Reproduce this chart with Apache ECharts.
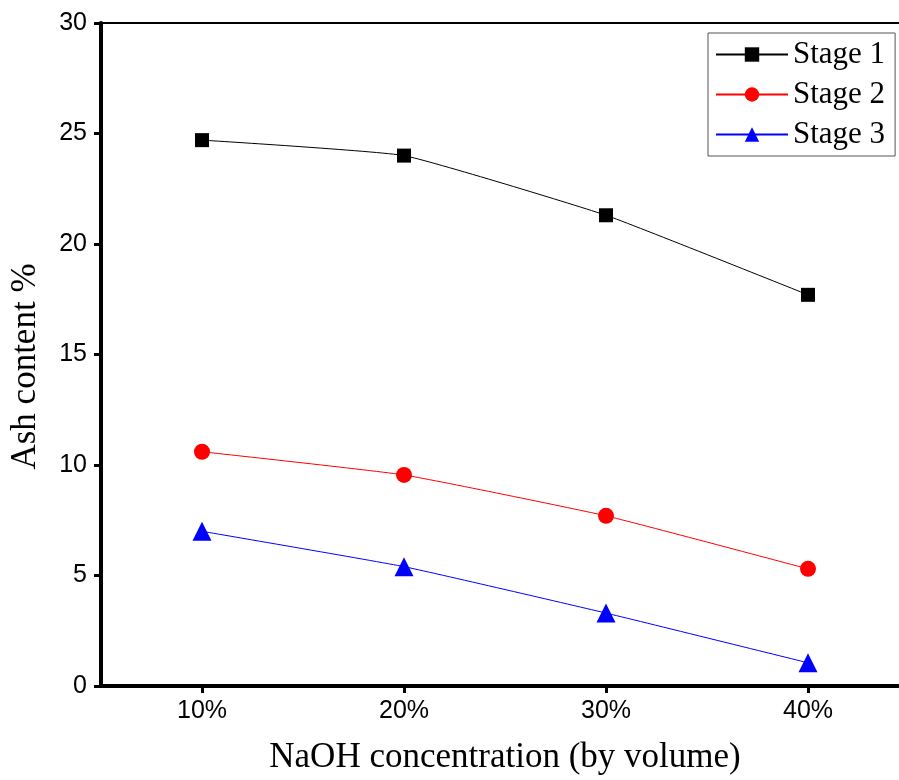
<!DOCTYPE html>
<html>
<head>
<meta charset="utf-8">
<script src="https://cdn.jsdelivr.net/npm/echarts@6/dist/echarts.min.js"></script>
<style>html,body{margin:0;padding:0;background:#fff}#c{width:899px;height:780px}</style>
</head>
<body>
<div id="c"></div>
<script>
var categories = ['10%', '20%', '30%', '40%'];
var stage1 = [24.7, 24.0, 21.3, 17.7];
var stage2 = [10.6, 9.55, 7.7, 5.3];
var stage3 = [7.0, 5.4, 3.3, 1.05];
var seriesNames = ['Stage 1', 'Stage 2', 'Stage 3'];
var yTicks = [0, 5, 10, 15, 20, 25, 30];

var chart = echarts.init(document.getElementById('c'));
var serif = 'Liberation Serif';
var sans = 'Liberation Sans';
function mk(name, data, color, symbol, size) {
  return {
    name: name, type: 'line', data: data, smooth: 0.12,
    symbol: symbol, symbolSize: size,
    itemStyle: { color: color },
    lineStyle: { color: color, width: 1 },
    emphasis: { disabled: true }
  };
}
chart.setOption({
  animation: false,
  backgroundColor: '#fff',
  grid: { left: 101, top: 23, width: 808, height: 663, containLabel: false, outerBoundsMode: 'none' },
  legend: {
    orient: 'vertical', left: 708, top: 33,
    padding: [6, 10, 6, 7], itemGap: 9,
    itemWidth: 72, itemHeight: 18,
    borderColor: '#555', borderWidth: 1,
    textStyle: { fontFamily: serif, fontSize: 31, color: '#000', lineHeight: 31 },
    data: seriesNames
  },
  xAxis: [{
    type: 'category', data: categories, boundaryGap: true,
    name: 'NaOH concentration (by volume)', nameLocation: 'middle', nameGap: 54,
    nameTextStyle: { fontFamily: serif, fontSize: 35, color: '#000' },
    axisLine: { lineStyle: { color: '#000', width: 4 } },
    axisTick: { show: true, alignWithLabel: true, length: 7, lineStyle: { color: '#000', width: 3 } },
    axisLabel: { fontFamily: sans, fontSize: 25, color: '#000', margin: 13 },
    splitLine: { show: false }
  }, {
    type: 'category', data: categories, position: 'top',
    axisLine: { lineStyle: { color: '#000', width: 2 } },
    axisTick: { show: false }, axisLabel: { show: false }, splitLine: { show: false }
  }],
  yAxis: {
    type: 'value', min: yTicks[0], max: yTicks[yTicks.length - 1], interval: 5,
    name: 'Ash content %', nameLocation: 'middle', nameGap: 58,
    nameTextStyle: { fontFamily: serif, fontSize: 35, color: '#000', padding: [0, 24, 0, 0] },
    axisLine: { show: true, lineStyle: { color: '#000', width: 4 } },
    axisTick: { show: true, length: 7, lineStyle: { color: '#000', width: 3 } },
    axisLabel: { fontFamily: sans, fontSize: 25, color: '#000', margin: 14 },
    splitLine: { show: false }
  },
  series: [
    mk(seriesNames[0], stage1, '#000000', 'rect', 14),
    mk(seriesNames[1], stage2, '#ff0000', 'circle', 16),
    mk(seriesNames[2], stage3, '#0000ff', 'triangle', 19)
  ]
});
</script>
</body>
</html>
